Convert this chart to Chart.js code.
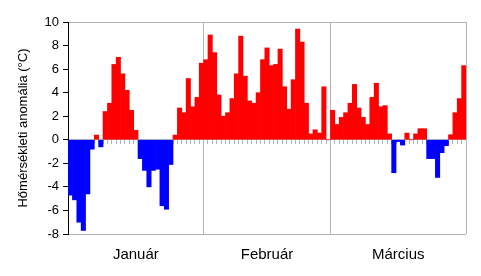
<html>
<head>
<meta charset="utf-8">
<script src="https://cdn.jsdelivr.net/npm/chart.js@4.4.1/dist/chart.umd.min.js"></script>
<style>
  body { margin: 0; background: #fff; }
  #wrap { width: 481px; height: 276px; }
</style>
</head>
<body>
<div id="wrap"><canvas id="myChart" width="481" height="276"></canvas></div>
<script>
// daily temperature anomalies (°C)
var months = ["Január", "Február", "Március"];
var monthDays = [31, 29, 31];
var jan = [-4.7, -5.1, -7.0, -7.7, -4.6, -0.8, 0.4, -0.6, 2.4, 3.1,
           6.4, 7.0, 5.6, 4.2, 2.5, 0.8, -1.6, -2.6, -4.0, -2.6,
           -2.5, -5.6, -5.9, -2.1, 0.4, 2.7, 2.3, 5.2, 2.8, 3.6, 6.5];
var feb = [6.8, 8.9, 7.4, 3.8, 2.0, 2.3, 3.5, 5.6, 8.8, 5.4,
           3.3, 3.1, 4.0, 6.8, 7.8, 6.3, 6.4, 7.7, 4.5, 2.6,
           5.1, 9.4, 8.3, 3.1, 0.5, 0.85, 0.57, 4.5, 0];
var mar = [2.5, 1.3, 1.9, 2.3, 3.1, 4.7, 2.7, 1.9, 1.3, 3.6,
           4.8, 2.8, 2.9, 0.5, -2.8, -0.15, -0.45, 0.57, 0, 0.5,
           0.94, 0.94, -1.6, -1.6, -3.2, -1.1, -0.5, 0.43, 2.3, 3.5, 6.3];
var yTicks = [-8, -6, -4, -2, 0, 2, 4, 6, 8, 10];

var values = jan.concat(feb, mar);
var days = [];
var tickLabels = [];
var boundaries = [];
var start = 0;
for (var m = 0; m < months.length; m++) {
  for (var d = 1; d <= monthDays[m]; d++) {
    days.push(months[m] + " " + d);
    tickLabels.push(d - 1 == Math.floor(monthDays[m] / 2) ? months[m] : "");
  }
  start += monthDays[m];
  boundaries.push(start);
}

var gray = "#b4b4b4";
var font = { family: "'Liberation Sans', Arial, sans-serif", size: 13 };
var monthFont = { family: "'Liberation Sans', Arial, sans-serif", size: 15 };

var ctx = document.getElementById("myChart").getContext("2d");
var chart = new Chart(ctx, {
  type: "bar",
  data: {
    labels: days,
    datasets: [{
      data: values,
      backgroundColor: values.map(function (v) { return v < 0 ? "#0000ff" : "#ff0000"; }),
      borderWidth: 0,
      barPercentage: 1,
      categoryPercentage: 1
    }]
  },
  options: {
    responsive: false,
    animation: false,
    layout: { padding: { top: 22, right: 15, left: 16, bottom: 0 } },
    plugins: { legend: { display: false }, tooltip: { enabled: false } },
    scales: {
      x: {
        offset: true,
        grid: {
          offset: true,
          drawTicks: false,
          color: function (c) {
            if (c.type === "scale") return gray;
            return boundaries.indexOf(c.index) >= 0 ? gray : "rgba(0,0,0,0)";
          }
        },
        border: { display: false },
        ticks: {
          autoSkip: false,
          maxRotation: 0,
          padding: 12,
          color: "#000",
          font: monthFont,
          callback: function (v, i) { return tickLabels[i]; }
        }
      },
      x2: {
        type: "category",
        labels: days,
        position: { y: 0 },
        offset: true,
        grid: { offset: true, drawOnChartArea: false, tickLength: 4, color: "#a8b6c8" },
        border: { color: "#a8b6c8" },
        ticks: { display: false }
      },
      y: {
        min: -8,
        max: 10,
        afterBuildTicks: function (s) { s.ticks = yTicks.map(function (v) { return { value: v }; }); },
        grid: {
          color: function (c) {
            return (c.tick && (c.tick.value == 10 || c.tick.value == -8)) ? gray : "rgba(0,0,0,0)";
          },
          tickColor: "#000",
          tickLength: 5
        },
        border: { color: "#000" },
        ticks: { color: "#000", font: font, padding: 4 },
        title: {
          display: true,
          text: "Hőmérsékleti anomália (°C)",
          color: "#000",
          font: font,
          padding: { top: 0, bottom: 9 }
        }
      }
    }
  }
});
</script>
</body>
</html>
